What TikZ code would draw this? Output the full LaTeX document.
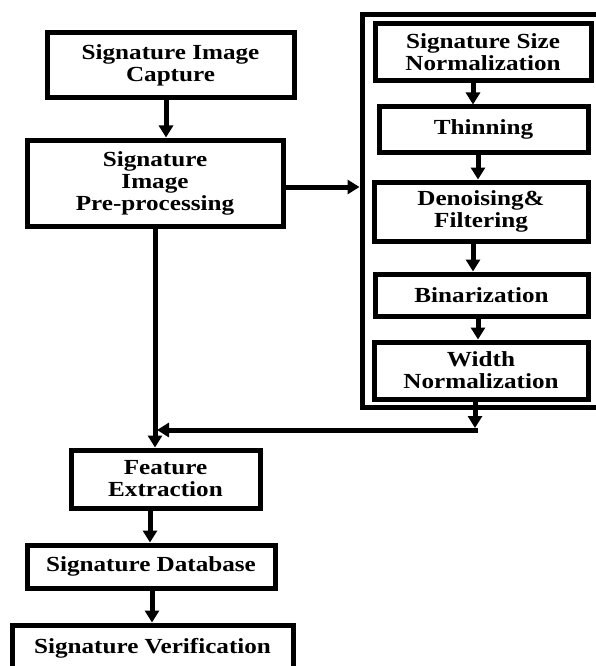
\documentclass[tikz,border=0pt]{standalone}
\usepackage{fontspec}
\setmainfont{Liberation Serif}[FakeStretch=1.17]
\usetikzlibrary{arrows.meta}
\begin{document}
\begin{tikzpicture}[x=1pt,y=-1pt,
  box/.style={draw, line width=5pt, inner sep=0pt, align=center,
    font=\fontsize{21.5}{22}\selectfont\bfseries},
  conn/.style={line width=5pt, -{Triangle[length=12pt,width=14pt]}}]
\useasboundingbox (0,0) rectangle (595,666);
\fill[white] (0,0) rectangle (595,666);
% left column
\node[box, minimum width=247pt, minimum height=65pt] (cap) at (170.5,65.5) {Signature Image\\Capture};
\node[box, minimum width=256pt, minimum height=86pt] (pre) at (155,183) {Signature\\Image\\Pre-processing};
\node[box, minimum width=189pt, minimum height=58pt] (fe) at (165.5,479) {Feature\\Extraction};
\node[box, minimum width=248pt, minimum height=43pt] (db) at (151,566.5) {Signature Database};
\node[box, minimum width=281pt, minimum height=46pt] (sv) at (152.5,648) {Signature Verification};
% group container
\node[draw, line width=5pt, inner sep=0pt, minimum width=270pt, minimum height=392pt] (grp) at (497,211) {};
\node[box, minimum width=216pt, minimum height=57pt] (ssn) at (483,52.5) {Signature Size\\Normalization};
\node[box, minimum width=209pt, minimum height=45pt] (thin) at (483.5,129.5) {Thinning};
\node[box, minimum width=214pt, minimum height=59pt] (den) at (481,211.5) {Denoising\&\\Filtering};
\node[box, minimum width=213pt, minimum height=42pt] (bin) at (481.5,295) {Binarization};
\node[box, minimum width=214pt, minimum height=57pt] (wn) at (481,370.5) {Width\\Normalization};
% connectors
\draw[conn] (cap.south -| 166,0) -- (pre.north -| 166,0);
\draw[conn] (pre.east |- 0,187) -- (grp.west |- 0,187);
\draw[conn] (ssn.south -| 473,0) -- (thin.north -| 473,0);
\draw[conn] (thin.south -| 478,0) -- (den.north -| 478,0);
\draw[conn] (den.south -| 473,0) -- (bin.north -| 473,0);
\draw[conn] (bin.south -| 478,0) -- (wn.north -| 478,0);
\coordinate (mj) at (475,428);
\coordinate (mr) at (477.5,430);
\coordinate (ml) at (157,430);
\draw[conn] (wn.south -| mj) -- (mj);
\draw[conn] (mr) -- (ml);
\draw[conn] (pre.south -| 155,0) -- (fe.north -| 155,0);
\draw[conn] (fe.south -| 150,0) -- (db.north -| 150,0);
\draw[conn] (db.south -| 152,0) -- (sv.north -| 152,0);
\end{tikzpicture}
\end{document}
